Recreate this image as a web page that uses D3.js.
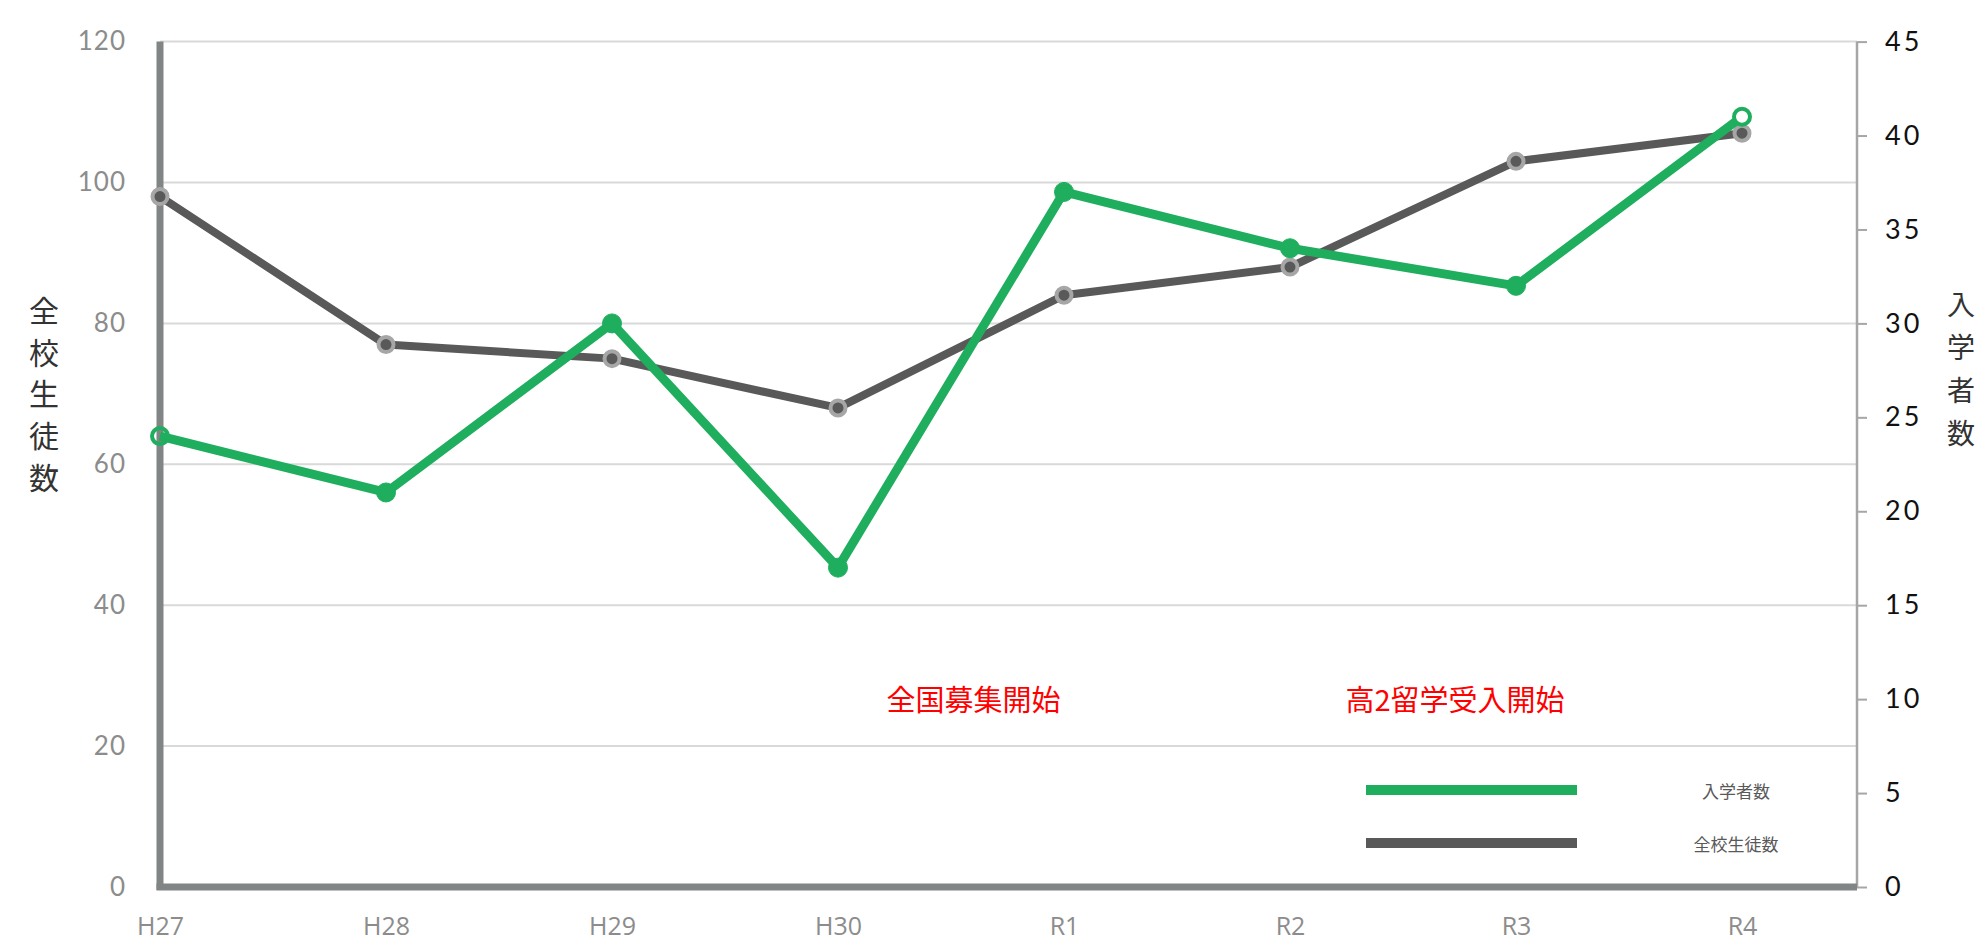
<!DOCTYPE html>
<html>
<head>
<meta charset="utf-8">
<script src="https://cdn.jsdelivr.net/npm/d3@7"></script>
<style>
  html, body { margin: 0; padding: 0; background: #fff; }
  svg { display: block; }
</style>
</head>
<body>
<svg id="chart" width="1978" height="943"></svg>
<script>
// ---- Data ----
const categories = ["H27", "H28", "H29", "H30", "R1", "R2", "R3", "R4"];
const totalStudents = [98, 77, 75, 68, 84, 88, 103, 107];   // 全校生徒数 (left axis)
const enrollees = [24, 21, 30, 17, 37, 34, 32, 41];          // 入学者数 (right axis)
const leftTicks = [0, 20, 40, 60, 80, 100, 120];
const rightTicks = [0, 5, 10, 15, 20, 25, 30, 35, 40, 45];
const leftTitle = "全校生徒数";
const rightTitle = "入学者数";
const seriesNames = ["入学者数", "全校生徒数"];
const annotationTexts = ["全国募集開始", "高2留学受入開始"];
const annotationAt = [3.6, 5.73];   // position in category steps from H27

// ---- Layout ----
const svg = d3.select("#chart");
const plotLeft = 160, plotRight = 1857, plotTop = 41.6, plotBottom = 887;
const green = "#1fae5e", darkGray = "#595959", ringGray = "#a6a6a6";

const x = d3.scalePoint().domain(categories).range([160, 1742]);
const yL = d3.scaleLinear().domain([0, 120]).range([plotBottom, plotTop]);
const yR = d3.scaleLinear().domain([0, 45]).range([plotBottom, plotTop]);

svg.append("rect").attr("width", 1978).attr("height", 943).attr("fill", "#fff");

// gridlines
svg.append("g").selectAll("line").data(leftTicks).join("line")
  .attr("x1", plotLeft).attr("x2", plotRight)
  .attr("y1", d => yL(d)).attr("y2", d => yL(d))
  .attr("stroke", "#d9d9d9").attr("stroke-width", 2);

// left axis tick labels
const leftAxis = d3.axisLeft(yL).tickValues(leftTicks).tickSize(0).tickPadding(0);
const gL = svg.append("g").attr("transform", `translate(126,0)`).call(leftAxis);
gL.select(".domain").remove();
gL.selectAll("text").attr("font-family", "Lato, 'Open Sans', sans-serif")
  .attr("font-size", 26).attr("fill", "#8c8c8c").attr("letter-spacing", 1);

// right axis
const rightAxis = d3.axisRight(yR).tickValues(rightTicks).tickSize(10).tickPadding(18);
const gR = svg.append("g").attr("transform", `translate(${plotRight},0)`).call(rightAxis);
gR.select(".domain").attr("stroke", "#a6a6a6").attr("stroke-width", 2.5)
  .attr("d", `M0,${plotTop}V${plotBottom}`);
gR.selectAll(".tick line").attr("stroke", "#a6a6a6").attr("stroke-width", 2);
gR.selectAll("text").attr("font-family", "Lato, 'Open Sans', sans-serif")
  .attr("font-size", 27).attr("fill", "#111").attr("letter-spacing", 3);

// x axis labels
const xAxis = d3.axisBottom(x).tickSize(0).tickPadding(0);
const gX = svg.append("g").attr("transform", `translate(0,0)`).call(xAxis);
gX.select(".domain").remove();
gX.selectAll("text").attr("font-family", "'Open Sans', sans-serif")
  .attr("font-size", 25).attr("fill", "#8c8c8c")
  .attr("y", 935).attr("dy", null);

// main axes lines (thick)
svg.append("line").attr("x1", plotLeft).attr("x2", plotLeft)
  .attr("y1", plotTop).attr("y2", plotBottom + 3)
  .attr("stroke", "#818585").attr("stroke-width", 7);
svg.append("line").attr("x1", plotLeft - 3.5).attr("x2", plotRight)
  .attr("y1", plotBottom).attr("y2", plotBottom)
  .attr("stroke", "#818585").attr("stroke-width", 7);

// axis titles (vertical stacked characters)
svg.append("g").selectAll("text").data(Array.from(leftTitle)).join("text")
  .attr("x", 44).attr("y", (d, i) => 309 + i * 41.7)
  .attr("text-anchor", "middle").attr("dominant-baseline", "central")
  .attr("font-family", "'Noto Sans CJK JP', sans-serif").attr("font-size", 30)
  .attr("fill", "#333").text(d => d);
svg.append("g").selectAll("text").data(Array.from(rightTitle)).join("text")
  .attr("x", 1961).attr("y", (d, i) => 303 + i * 43)
  .attr("text-anchor", "middle").attr("dominant-baseline", "central")
  .attr("font-family", "'Noto Sans CJK JP', sans-serif").attr("font-size", 28)
  .attr("fill", "#333").text(d => d);

// series: gray (left)
const lineL = d3.line().x((d, i) => x(categories[i])).y(d => yL(d));
svg.append("path").datum(totalStudents).attr("d", lineL)
  .attr("fill", "none").attr("stroke", darkGray).attr("stroke-width", 8)
  .attr("stroke-linejoin", "round");
svg.append("g").selectAll("circle").data(totalStudents).join("circle")
  .attr("cx", (d, i) => x(categories[i])).attr("cy", d => yL(d)).attr("r", 7.5)
  .attr("fill", darkGray).attr("stroke", ringGray).attr("stroke-width", 4);

// series: green (right)
const lineR = d3.line().x((d, i) => x(categories[i])).y(d => yR(d));
svg.append("path").datum(enrollees).attr("d", lineR)
  .attr("fill", "none").attr("stroke", green).attr("stroke-width", 9)
  .attr("stroke-linejoin", "round");
svg.append("g").selectAll("circle").data(enrollees).join("circle")
  .attr("cx", (d, i) => x(categories[i])).attr("cy", d => yR(d))
  .attr("r", (d, i) => (i === 0 || i === enrollees.length - 1) ? 8 : 9.5)
  .attr("fill", (d, i) => i === 0 ? "none" : (i === enrollees.length - 1 ? "#fff" : green))
  .attr("stroke", green).attr("stroke-width", (d, i) => (i === 0 || i === enrollees.length - 1) ? 4 : 1);

// annotations
const step = x.step();
svg.append("g").selectAll("text").data(annotationTexts).join("text")
  .attr("x", (d, i) => x.range()[0] + annotationAt[i] * step)
  .attr("y", 698).attr("text-anchor", "middle").attr("dominant-baseline", "central")
  .attr("font-family", "'Noto Sans CJK JP', sans-serif").attr("font-size", 29)
  .attr("fill", "#ff0000").text(d => d);

// legend
const legendColors = [green, darkGray];
const legendY = [790, 843];
const lg = svg.append("g");
seriesNames.forEach((name, i) => {
  lg.append("line").attr("x1", 1366).attr("x2", 1577)
    .attr("y1", legendY[i]).attr("y2", legendY[i])
    .attr("stroke", legendColors[i]).attr("stroke-width", 10);
  lg.append("text").attr("x", 1736).attr("y", legendY[i])
    .attr("text-anchor", "middle").attr("dominant-baseline", "central")
    .attr("font-family", "'Noto Sans CJK JP', sans-serif").attr("font-size", 17)
    .attr("fill", "#595959").text(name);
});
</script>
</body>
</html>
